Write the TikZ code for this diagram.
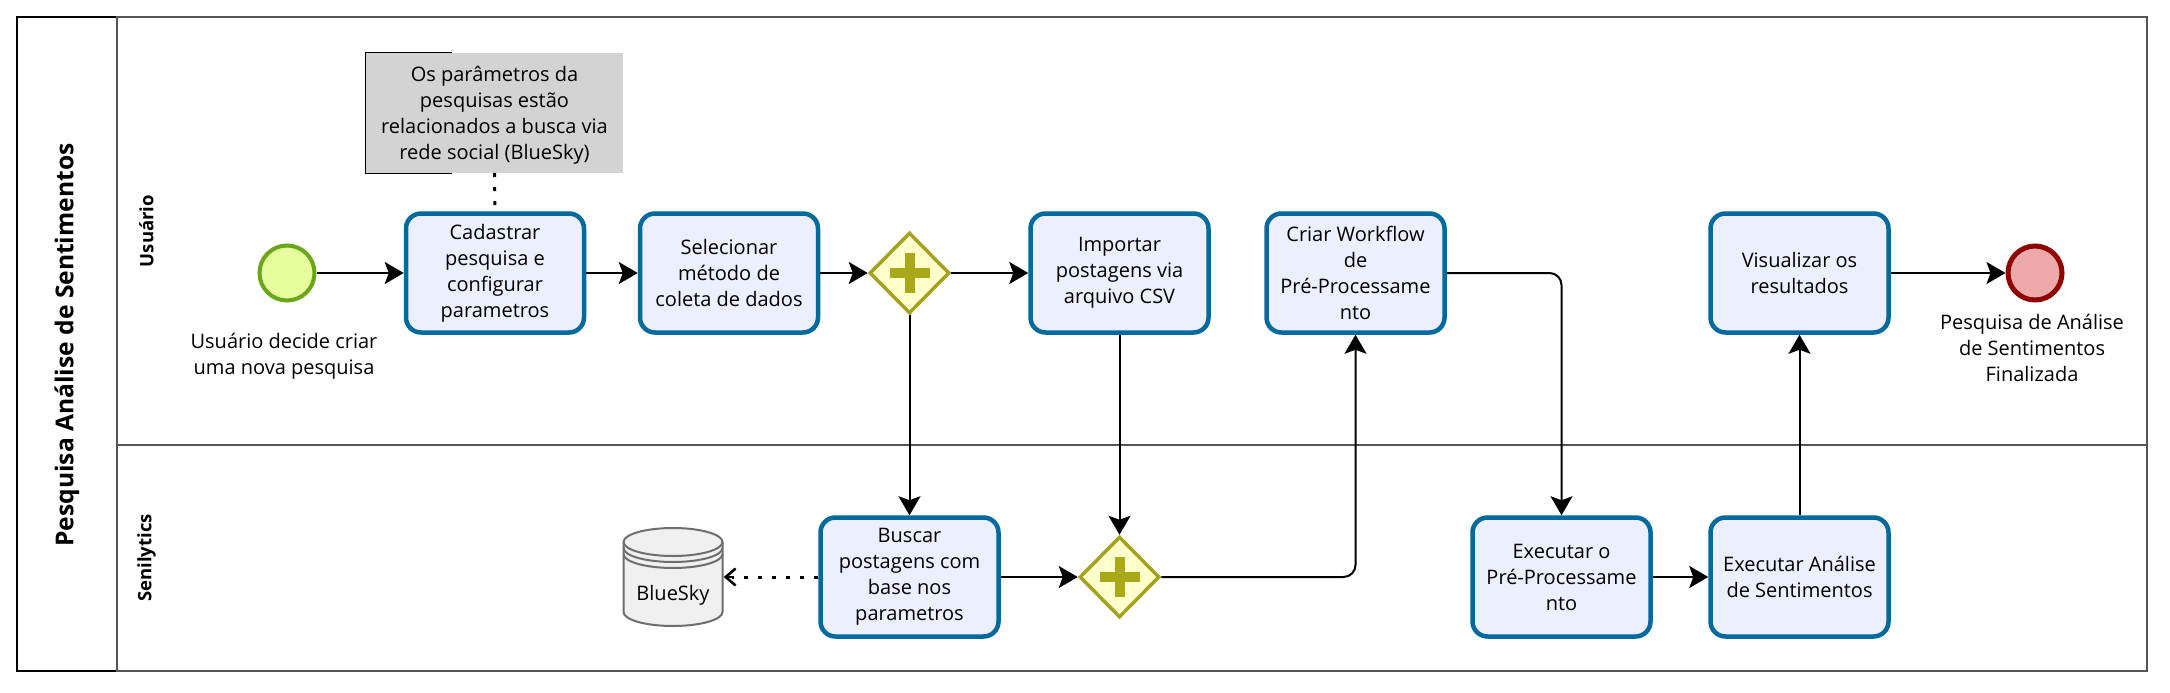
\documentclass[tikz,border=0pt]{standalone}
\usepackage{fontspec}
\setmainfont{Open Sans}
\usetikzlibrary{arrows.meta,shapes.geometric}
\definecolor{taskfill}{HTML}{ECEFFF}
\definecolor{taskline}{HTML}{00699D}
\definecolor{gatefill}{HTML}{FFFFCC}
\definecolor{gateline}{HTML}{A3A31F}
\definecolor{gateplus}{HTML}{A8A818}
\definecolor{lanegray}{HTML}{555555}
\definecolor{dbline}{HTML}{6E6E6E}
\definecolor{dbfill}{HTML}{F0F0F0}
\tikzset{
  task/.style={rectangle, rounded corners=15pt, draw=taskline, line width=4.5pt, fill=taskfill,
    minimum width=178pt, minimum height=119pt, inner sep=0pt, align=center, font=\fontsize{20}{26}\selectfont},
  gate/.style={diamond, draw=gateline, line width=3.5pt, fill=gatefill, aspect=1, inner sep=0pt,
    minimum width=80pt, minimum height=81pt,
    path picture={
      \fill[gateplus] ([xshift=-20pt,yshift=-5pt]path picture bounding box.center) rectangle ++(40pt,10pt);
      \fill[gateplus] ([xshift=-5pt,yshift=-20pt]path picture bounding box.center) rectangle ++(10pt,40pt);
    }},
  caption/.style={align=center, inner sep=0pt, font=\fontsize{20}{26}\selectfont},
  flow/.style={draw=black, line width=2pt, -{Stealth[length=19pt,width=22pt,inset=4pt]}},
  assoc/.style={draw=black, line width=3pt, dash pattern=on 4pt off 10pt},
  lane/.style={draw=lanegray, line width=2pt},
  lanetext/.style={rotate=90, inner sep=0pt, font=\fontsize{18.5}{22}\selectfont\bfseries},
  dbline/.style={draw=dbline, line width=2pt}
}
\begin{document}
\begin{tikzpicture}[x=1pt,y=-1pt]
\useasboundingbox (0,0) rectangle (2170,693);
% pool and lanes
\draw[black, line width=2.2pt] (17,17) rectangle (117,671);
\draw[lane] (117,17) rectangle (2147,445);
\draw[lane] (117,445) rectangle (2147,671);
\node[rotate=90, inner sep=0pt, font=\fontsize{24.6}{28}\selectfont\bfseries] (pooltitle) at (67,345) {Pesquisa Análise de Sentimentos};
\node[lanetext] (laneuser) at (146.5,231) {Usuário};
\node[lanetext] (lanesys) at (146.5,558) {Senilytics};
% usuario
\node[circle, draw={rgb,255:red,106;green,165;blue,26}, fill={rgb,255:red,228;green,255;blue,155}, line width=4pt, minimum size=55pt, inner sep=0pt] (start) at (287,273){};
\node[caption] (startlabel) at (284,356) {Usuário decide criar\\uma nova pesquisa};
\node[rectangle, fill={rgb,255:red,211;green,211;blue,211}, minimum width=257pt, minimum height=120pt, inner sep=0pt, align=center, font=\fontsize{20}{26}\selectfont] (note) at (494.5,113) {\rule{0pt}{20pt}Os parâmetros da\\pesquisas estão\\relacionados a busca via\\rede social (BlueSky)};
\node[task] (cadastrar) at (495,273) {Cadastrar\\pesquisa e\\configurar\\parametros};
\node[task] (selecionar) at (729,273) {Selecionar\\método de\\coleta de dados};
\node[gate] (gate0) at (909.5,273){};
\node[task] (importar) at (1119.5,273) {Importar\\postagens via\\arquivo CSV};
\node[task] (criar) at (1355.5,273) {Criar Workflow\\de\\Pré-Processame\\nto};
\node[task] (visualizar) at (1799.5,273) {Visualizar os\\resultados};
\node[circle, draw={rgb,255:red,143;green,0;blue,0}, fill={rgb,255:red,237;green,169;blue,169}, line width=5pt, minimum size=54pt, inner sep=0pt] (end) at (2035,273){};
\node[caption] (endlabel) at (2032,348) {Pesquisa de Análise\\de Sentimentos\\Finalizada};
% senilytics
\node[rectangle, minimum width=101pt, minimum height=100pt, inner sep=0pt] (bluesky) at (673,577){};
\draw[dbline, fill=dbfill] (623.5,542) -- (623.5,612) arc[start angle=180, end angle=360, x radius=49.5pt, y radius=14pt] -- (722.5,542) arc[start angle=0, end angle=180, x radius=49.5pt, y radius=14pt] -- cycle;
\draw[dbline] (623.5,542) arc[start angle=180, end angle=360, x radius=49.5pt, y radius=14pt];
\draw[dbline] (623.5,548) arc[start angle=180, end angle=360, x radius=49.5pt, y radius=14pt];
\draw[dbline] (623.5,554) arc[start angle=180, end angle=360, x radius=49.5pt, y radius=14pt];
\node[caption] (blueskylabel) at (673,595) {BlueSky};
\node[task] (buscar) at (909.5,577) {Buscar\\postagens com\\base nos\\parametros};
\node[gate] (gate1) at (1119.5,577){};
\node[task] (executarpre) at (1561.5,577) {Executar o\\Pré-Processame\\nto};
\node[task] (executaran) at (1799.5,577) {Executar Análise\\de Sentimentos};
% connectors
\draw[flow] (start) -- (cadastrar);
\draw[flow] (cadastrar) -- (selecionar);
\draw[flow] (selecionar) -- (gate0);
\draw[flow] (gate0) -- (importar);
\draw[flow] (gate0) -- (buscar);
\draw[flow] (importar) -- (gate1);
\draw[flow] (buscar) -- (gate1);
\draw[flow, rounded corners=12pt] (gate1.east) -| (criar.south);
\draw[flow, rounded corners=12pt] (criar.east) -| (executarpre.north);
\draw[flow] (executarpre) -- (executaran);
\draw[flow] (executaran) -- (visualizar);
\draw[flow] (visualizar) -- (end);
\draw[assoc] (note) -- (cadastrar);
\draw[assoc] (buscar.west) -- ([xshift=8pt]bluesky.east);
\draw[line width=2.5pt, -{Straight Barb[length=10pt,width=17pt]}] ([xshift=10pt]bluesky.east) -- (bluesky.east);
\draw[black, line width=1.2pt] ([xshift=86pt]note.north west) -- (note.north west) -- (note.south west) -- ([xshift=86pt]note.south west);
\end{tikzpicture}
\end{document}
